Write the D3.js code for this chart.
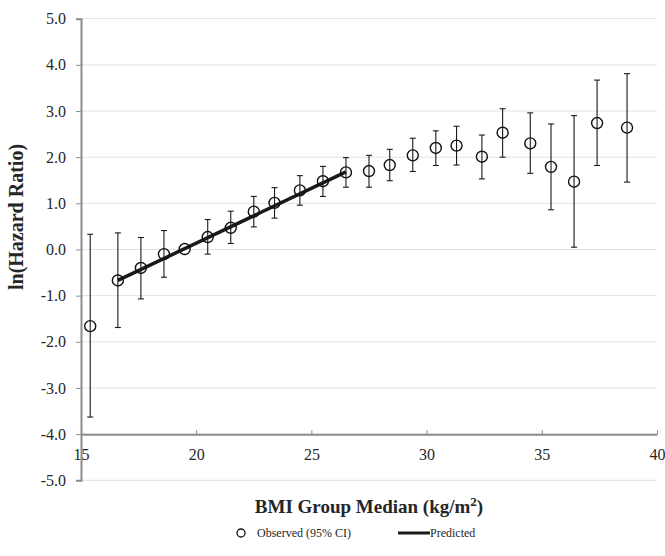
<!DOCTYPE html>
<html>
<head>
<meta charset="utf-8">
<script src="https://cdn.jsdelivr.net/npm/d3@7"></script>
<style>
  body { margin: 0; background: #fff; }
  svg { font-family: "Liberation Serif", "Times New Roman", serif; }
</style>
</head>
<body>
<div id="chart"></div>
<script>
// BMI group medians and observed ln(HR) with 95% CI
var bmi = [15.4, 16.6, 17.6, 18.6, 19.5, 20.5, 21.5, 22.5, 23.4, 24.5, 25.5, 26.5,
           27.5, 28.4, 29.4, 30.4, 31.3, 32.4, 33.3, 34.5, 35.4, 36.4, 37.4, 38.7];
var lnHR = [-1.66, -0.67, -0.40, -0.10, 0.01, 0.27, 0.47, 0.82, 1.01, 1.28, 1.48, 1.67,
            1.70, 1.83, 2.04, 2.20, 2.25, 2.01, 2.53, 2.30, 1.79, 1.47, 2.74, 2.64];
var ciLow = [-3.63, -1.69, -1.07, -0.60, 0.01, -0.10, 0.13, 0.49, 0.68, 0.96, 1.15, 1.35,
             1.35, 1.49, 1.69, 1.82, 1.83, 1.53, 2.00, 1.65, 0.86, 0.05, 1.82, 1.46];
var ciHigh = [0.33, 0.36, 0.26, 0.41, 0.01, 0.65, 0.83, 1.15, 1.34, 1.60, 1.80, 1.99,
              2.04, 2.17, 2.41, 2.57, 2.67, 2.48, 3.05, 2.96, 2.72, 2.90, 3.67, 3.81];
// predicted line end points
var predX = [16.6, 26.5];
var predY = [-0.67, 1.68];

var xTicks = [15, 20, 25, 30, 35, 40];
var yTicks = [-5, -4, -3, -2, -1, 0, 1, 2, 3, 4, 5];

var width = 665, height = 556;
var svg = d3.select("#chart").append("svg")
    .attr("width", width)
    .attr("height", height);

var x = d3.scaleLinear().domain([15, 40]).range([81, 657]);
var y = d3.scaleLinear().domain([-5, 5]).range([480.3, 18.7]);

// gridlines
svg.selectAll(".grid")
    .data(yTicks)
    .enter()
    .append("line")
    .attr("x1", x(15))
    .attr("x2", x(40))
    .attr("y1", d => y(d))
    .attr("y2", d => y(d))
    .attr("stroke", "#e2e2e2")
    .attr("stroke-width", 1);

// y axis (hyphen minus like the original)
var yAxis = d3.axisLeft(y)
    .tickValues(yTicks)
    .tickSize(5)
    .tickPadding(10)
    .tickFormat(d => d.toFixed(1));
var gy = svg.append("g")
    .attr("transform", "translate(" + x(15) + ",0)")
    .call(yAxis);
gy.select(".domain").attr("stroke", "#8c8c8c").attr("stroke-width", 2);
gy.selectAll(".tick line").attr("stroke", "#8c8c8c");
gy.selectAll(".tick text")
    .attr("fill", "#262626")
    .style("font-size", "16px")
    .style("font-family", "Liberation Serif");

// x axis, crossing at -4
var xAxis = d3.axisBottom(x)
    .tickValues(xTicks)
    .tickSize(0)
    .tickPadding(15);
var gx = svg.append("g")
    .attr("transform", "translate(0," + y(-4) + ")")
    .call(xAxis);
gx.select(".domain").attr("stroke", "#8c8c8c").attr("stroke-width", 2);
gx.selectAll(".tick text")
    .attr("fill", "#262626")
    .style("font-size", "16px")
    .style("font-family", "Liberation Serif");
gx.selectAll(".tick").append("line")
    .attr("y1", -4)
    .attr("y2", 0)
    .attr("stroke", "#8c8c8c");

// error bars
var errs = svg.append("g");
bmi.forEach(function(b, i) {
    if (ciHigh[i] - ciLow[i] < 0.05) return;
    errs.append("line")
        .attr("x1", x(b)).attr("x2", x(b))
        .attr("y1", y(ciLow[i])).attr("y2", y(ciHigh[i]))
        .attr("stroke", "#1a1a1a").attr("stroke-width", 1.1);
    [ciLow[i], ciHigh[i]].forEach(function(v) {
        errs.append("line")
            .attr("x1", x(b) - 3).attr("x2", x(b) + 3)
            .attr("y1", y(v)).attr("y2", y(v))
            .attr("stroke", "#1a1a1a").attr("stroke-width", 1.1);
    });
});

// predicted line
var line = d3.line()
    .x(d => x(d[0]))
    .y(d => y(d[1]));
svg.append("path")
    .datum(d3.zip(predX, predY))
    .attr("d", line)
    .attr("fill", "none")
    .attr("stroke", "#1a1a1a")
    .attr("stroke-width", 3.5);

// observed points
svg.selectAll(".pt")
    .data(d3.zip(bmi, lnHR))
    .enter()
    .append("circle")
    .attr("cx", d => x(d[0]))
    .attr("cy", d => y(d[1]))
    .attr("r", 5.5)
    .attr("fill", "none")
    .attr("stroke", "#111")
    .attr("stroke-width", 1.4);

// axis titles
svg.append("text")
    .attr("transform", "translate(23,217) rotate(-90)")
    .attr("text-anchor", "middle")
    .style("font-size", "20px")
    .style("font-weight", "bold")
    .attr("fill", "#262626")
    .text("ln(Hazard Ratio)");

var xt = svg.append("text")
    .attr("x", (x(15) + x(40)) / 2)
    .attr("y", 513)
    .attr("text-anchor", "middle")
    .style("font-size", "19px")
    .style("font-weight", "bold")
    .attr("fill", "#262626");
xt.append("tspan").text("BMI Group Median (kg/m");
xt.append("tspan").attr("dy", -7).style("font-size", "13px").text("2");
xt.append("tspan").attr("dy", 7).text(")");

// legend
var lg = svg.append("g");
lg.append("circle")
    .attr("cx", 241).attr("cy", 533).attr("r", 4)
    .attr("fill", "none").attr("stroke", "#111").attr("stroke-width", 1.3);
lg.append("text")
    .attr("x", 257).attr("y", 537)
    .style("font-size", "12px").attr("fill", "#262626")
    .text("Observed (95% CI)");
lg.append("line")
    .attr("x1", 398).attr("x2", 430).attr("y1", 533).attr("y2", 533)
    .attr("stroke", "#1a1a1a").attr("stroke-width", 3);
lg.append("text")
    .attr("x", 430).attr("y", 537)
    .style("font-size", "12px").attr("fill", "#262626")
    .text("Predicted");
</script>
</body>
</html>
